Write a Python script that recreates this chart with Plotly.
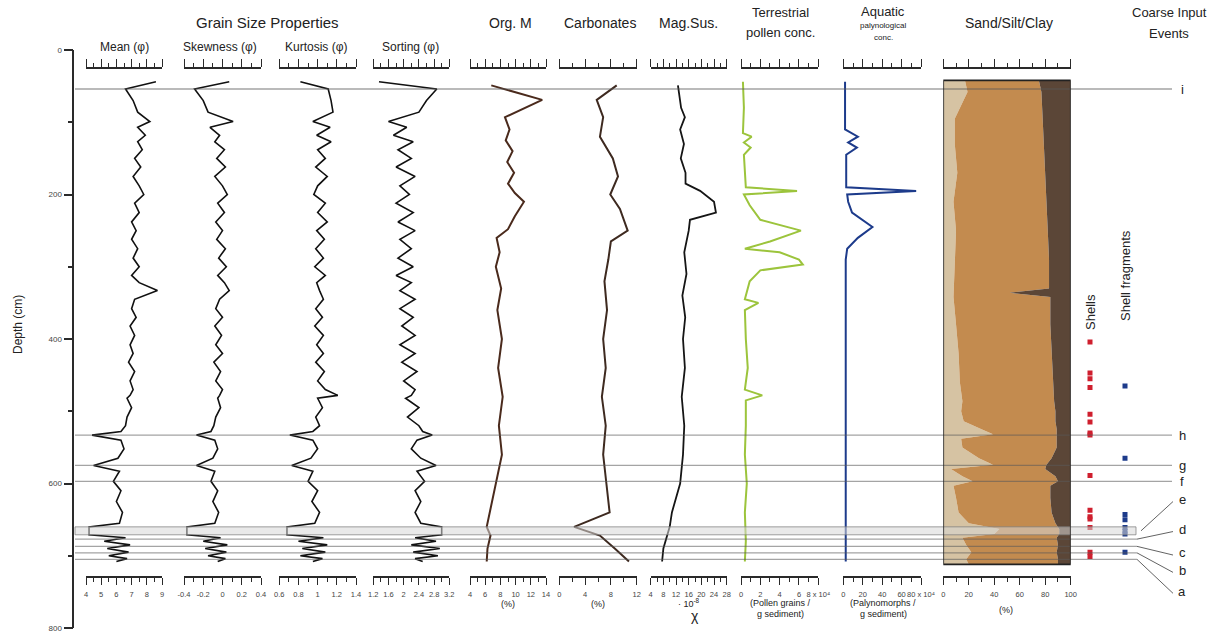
import plotly.graph_objects as go

W, H = 1225, 634

# ---------------- data (depth in cm) ----------------
grain_depth = [44,54,70,86,99,107,118,127,138,150,162,175,188,200,212,225,238,250,262,275,288,300,312,322,333,345,358,370,382,395,408,420,432,445,458,470,478,482,495,508,520,528,533,540,552,565,575,583,597,610,625,640,655,660,671,675,680,685,690,695,700,704,708]
mean_val = [8.6,6.6,7.1,7.4,8.2,7.4,7.9,7.4,7.7,7.2,7.6,7.1,7.5,7.8,7.2,7.5,7.0,7.3,7.0,7.4,7.1,7.5,7.0,7.5,8.7,7.2,7.0,7.3,6.9,7.2,6.9,7.1,6.8,7.2,6.9,7.1,6.9,6.7,7.0,6.7,6.6,6.3,4.4,6.3,6.5,6.1,4.5,6.2,5.8,6.3,6.0,6.4,6.2,4.2,4.2,6.6,5.2,6.9,5.4,6.8,5.5,6.7,6.0]
skew_val = [0.07,-0.29,-0.2,-0.15,0.11,-0.13,-0.03,-0.08,0.02,-0.06,0.03,-0.08,0.0,0.05,-0.05,0.02,-0.07,0.0,-0.06,0.03,-0.04,0.04,-0.05,0.02,0.07,-0.03,-0.07,0.0,-0.08,-0.01,-0.07,0.0,-0.09,-0.02,-0.07,0.0,-0.03,-0.05,-0.02,-0.07,-0.09,-0.12,-0.27,-0.08,-0.05,-0.1,-0.27,-0.08,-0.12,-0.05,-0.1,-0.04,-0.08,-0.37,-0.37,-0.02,-0.2,0.05,-0.18,0.04,-0.15,0.03,-0.05]
kurt_val = [0.82,1.11,1.14,1.16,0.95,1.13,0.99,1.14,1.0,1.08,0.98,1.1,1.0,0.96,1.08,1.0,1.1,0.99,1.07,0.98,1.06,0.97,1.08,0.99,1.02,1.06,0.98,1.05,0.97,1.06,0.99,1.06,0.98,1.07,1.0,1.08,1.21,1.0,1.05,0.98,1.02,0.95,0.71,0.95,1.0,0.93,0.73,0.95,0.9,1.0,0.94,1.02,0.97,0.68,0.68,1.06,0.8,1.1,0.84,1.08,0.82,1.05,0.95]
sort_val = [1.35,2.87,2.6,2.4,1.6,2.08,1.73,2.25,1.85,2.2,1.8,2.3,1.9,2.15,1.8,2.25,1.85,2.3,1.9,2.2,1.85,2.25,1.8,2.2,1.9,2.3,1.9,2.25,1.95,2.3,1.9,2.3,1.95,2.35,2.0,2.3,2.2,2.05,2.4,2.1,2.4,2.5,2.75,2.35,2.2,2.45,2.85,2.35,2.55,2.3,2.45,2.3,2.45,3.0,3.0,2.3,2.85,2.2,2.95,2.25,2.9,2.3,2.5]

orgm_depth = [49,69,93,110,125,140,155,170,185,198,210,230,248,260,280,300,330,360,400,440,480,520,560,600,640,660,672,690,708]
orgm_val = [6.8,13.5,8.6,9.2,8.7,9.6,8.9,9.8,9.0,9.9,11.1,9.9,9.0,7.5,7.9,7.4,8.1,7.6,8.2,7.7,8.3,7.8,8.2,7.4,6.7,6.2,6.7,6.3,6.2]

carb_depth = [49,69,93,120,150,175,200,220,250,265,290,320,360,400,440,480,520,560,600,640,660,672,690,708]
carb_val = [8.9,5.8,6.8,6.3,8.3,9.1,7.9,9.4,10.6,8.0,7.6,7.0,7.4,6.8,7.2,6.6,7.2,6.8,7.3,7.8,2.3,6.3,8.6,10.8]

mag_depth = [49,80,93,110,130,150,170,185,195,210,225,235,250,280,310,340,370,400,440,480,520,560,600,640,660,672,690,708]
mag_val = [12.6,13.6,14.8,13.3,14.5,13.5,15.0,15.0,19.6,24.0,24.6,16.4,16.0,14.6,15.3,14.0,14.9,14.2,14.8,13.8,14.6,14.2,13.3,10.7,10.0,9.2,8.0,7.6]

terr_depth = [44,80,115,120,128,135,145,190,195,200,215,235,250,265,275,280,290,297,305,320,345,350,360,400,440,470,478,485,520,560,600,640,680,708]
terr_val = [0.2,0.3,0.2,1.1,0.3,1.0,0.3,0.5,5.8,0.3,0.9,2.0,6.2,3.0,0.4,4.0,6.0,6.4,2.0,0.9,0.4,1.8,0.4,0.5,0.7,0.4,2.2,0.5,0.5,0.4,0.6,0.4,0.5,0.4]

aqua_depth = [44,110,120,128,135,145,190,195,200,210,225,245,260,275,290,400,500,600,660,708]
aqua_val = [1.8,1.8,15,5,14,3,3,75,4,5,9,30,15,4,2.5,2.5,2.5,2.5,3,2.5]

sand_depth = [42,58,95,130,170,210,250,290,330,336,342,380,420,460,486,500,514,525,532,538,550,565,574,580,590,597,603,620,640,655,663,670,675,685,695,705,712]
sand_val = [17,19,9,9,11,8,10,9,8,8,8,10,12,13,15,14,16,30,39,14,15,28,39,6,15,23,8,10,12,20,44,40,15,18,22,18,20]
silt_val = [58,58,69,70,69,73,72,74,75,44,76,74,73,73,72,74,72,59,50,75,74,57,42,74,73,67,76,74,73,68,47,51,74,72,67,72,70]

shell_depths = [404, 447, 455, 467, 504, 515, 530, 533, 589, 637, 646, 649, 661, 695, 701]
frag_depths = [465, 565, 643, 650, 661, 666, 670, 695]

event_lines = {"i": 54, "h": 533, "g": 575, "f": 597}
event_lines_low = {"d": 677, "c": 687, "b": 696, "a": 705}
event_band = {"e": (660, 671)}

# panel definitions: name, x0px, x1px, range, major ticks, labels, minor dtick
panels = [
    ("Mean (φ)", 86, 162, [4, 9], [4, 5, 6, 7, 8, 9], ["4", "5", "6", "7", "8", "9"], 0.5),
    ("Skewness (φ)", 184, 261, [-0.4, 0.4], [-0.4, -0.2, 0, 0.2, 0.4], ["-0.4", "-0.2", "0", "0.2", "0.4"], 0.1),
    ("Kurtosis (φ)", 279.3, 356, [0.6, 1.4], [0.6, 0.8, 1.0, 1.2, 1.4], ["0.6", "0.8", "1", "1.2", "1.4"], 0.1),
    ("Sorting (φ)", 373.3, 449.3, [1.2, 3.2], [1.2, 1.6, 2.0, 2.4, 2.8, 3.2], ["1.2", "1.6", "2", "2.4", "2.8", "3.2"], 0.2),
    ("Org. M", 470, 546, [4, 14], [4, 6, 8, 10, 12, 14], ["4", "6", "8", "10", "12", "14"], 1),
    ("Carbonates", 559.3, 636.7, [0, 12], [0, 4, 8, 12], ["0", "4", "8", "12"], 2),
    ("Mag.Sus.", 650.7, 726.7, [4, 28], [4, 8, 12, 16, 20, 24, 28], ["4", "8", "12", "16", "20", "24", "28"], 2),
    ("Terrestrial", 741, 818.3, [0, 8], [0, 2, 4, 6, 8], ["0", "2", "4", "6", "8 x 10⁴"], 1),
    ("Aquatic", 843.3, 921, [0, 80], [0, 20, 40, 60, 80], ["0", "20", "40", "60", "80 x 10⁴"], 10),
    ("Sand", 943.3, 1070.7, [0, 100], [0, 20, 40, 60, 80, 100], ["0", "20", "40", "60", "80", "100"], 10),
]

series = [
    (grain_depth, mean_val, "#111111", 1.6),
    (grain_depth, skew_val, "#111111", 1.6),
    (grain_depth, kurt_val, "#111111", 1.6),
    (grain_depth, sort_val, "#111111", 1.6),
    (orgm_depth, orgm_val, "#4a2a1c", 2.0),
    (carb_depth, carb_val, "#3e2a20", 2.0),
    (mag_depth, mag_val, "#151515", 1.8),
    (terr_depth, terr_val, "#9cc43c", 2.0),
    (aqua_depth, aqua_val, "#1d3b8b", 2.0),
]

FONT = "Arial, 'Liberation Sans', sans-serif"
TOP_Y = 68      # px position of top scale bars
BOT_Y = 577     # px position of bottom scale bars
AX_COLOR = "#2a2a2a"

fig = go.Figure()
layout = dict(
    width=W, height=H, autosize=False,
    margin=dict(l=0, r=0, t=0, b=0, pad=0, autoexpand=False),
    paper_bgcolor="white", plot_bgcolor="rgba(0,0,0,0)",
    showlegend=False,
    font=dict(family=FONT, color="#222"),
)

# depth axis
layout["yaxis"] = dict(
    domain=[1 - 628 / H, 1 - 50 / H], range=[800, 0], anchor="free", position=73.3 / W,
    showline=True, linecolor=AX_COLOR, linewidth=1.6, ticks="outside", ticklen=9, tickwidth=1.6,
    tickcolor=AX_COLOR, tickvals=[0, 200, 400, 600, 800], tickfont=dict(size=8, color="#444"),
    minor=dict(tickvals=[100, 300, 500, 700], ticklen=5, tickwidth=1.6, tickcolor=AX_COLOR, ticks="outside"),
    showgrid=False, zeroline=False, automargin=False, fixedrange=True,
)

n = len(panels)
for i, (name, x0, x1, rng, majors, labels, mdt) in enumerate(panels):
    top_id = i + 1
    bot_id = i + 1 + n
    dom = [x0 / W, x1 / W]
    common = dict(domain=dom, range=rng, showgrid=False, zeroline=False, showline=True,
                  linecolor=AX_COLOR, linewidth=1.6, tickcolor=AX_COLOR, tickwidth=1.4,
                  ticks="outside", tickvals=majors, anchor="free", fixedrange=True,
                  automargin=False, tickangle=0)
    minor_vals = []
    v = rng[0]
    while v <= rng[1] + 1e-9:
        if all(abs(v - m) > 1e-9 for m in majors):
            minor_vals.append(round(v, 6))
        v += mdt
    layout["xaxis" if top_id == 1 else f"xaxis{top_id}"] = dict(
        common, side="top", position=1 - TOP_Y / H, ticklen=8, showticklabels=False,
        minor=dict(tickvals=minor_vals, ticklen=4, tickwidth=1.4, tickcolor=AX_COLOR, ticks="outside"),
    )
    layout[f"xaxis{bot_id}"] = dict(
        common, side="bottom", position=1 - BOT_Y / H, ticklen=7, showticklabels=True,
        ticktext=labels, tickfont=dict(size=7.5, color="#444"), ticklabelstandoff=3,
        minor=dict(tickvals=minor_vals, ticklen=4, tickwidth=1.4, tickcolor=AX_COLOR, ticks="outside"),
    )
    xa = "x" if top_id == 1 else f"x{top_id}"
    # scale-only trace so the bottom axis is drawn
    fig.add_trace(go.Scatter(x=rng, y=[None, None], xaxis=f"x{bot_id}", yaxis="y",
                             mode="lines", hoverinfo="skip"))
    if i < len(series):
        d, v, c, w = series[i]
        fig.add_trace(go.Scatter(x=v, y=d, xaxis=xa, yaxis="y", mode="lines",
                                 line=dict(color=c, width=w), hoverinfo="skip"))

# Sand / Silt / Clay stacked areas (panel 10)
sand_xa = f"x{n}"
sand_cum = list(sand_val)
silt_cum = [s + t for s, t in zip(sand_val, silt_val)]
full = [100 for _ in sand_val]
fig.add_trace(go.Scatter(x=sand_cum, y=sand_depth, xaxis=sand_xa, yaxis="y", mode="lines",
                         line=dict(width=0), fill="tozerox", fillcolor="#d6c3a3", hoverinfo="skip"))
fig.add_trace(go.Scatter(x=silt_cum, y=sand_depth, xaxis=sand_xa, yaxis="y", mode="lines",
                         line=dict(width=0), fill="tonextx", fillcolor="#c38b4f", hoverinfo="skip"))
fig.add_trace(go.Scatter(x=full, y=sand_depth, xaxis=sand_xa, yaxis="y", mode="lines",
                         line=dict(width=0), fill="tonextx", fillcolor="#5b4637", hoverinfo="skip"))

# events panel (categorical)
ev_id = 2 * n + 1
layout[f"xaxis{ev_id}"] = dict(domain=[1072.5 / W, 1142.5 / W], range=[-0.5, 1.5], type="category",
                               categoryarray=["Shells", "Shell fragments"], visible=False,
                               anchor="free", position=0, automargin=False, fixedrange=True)
fig.add_trace(go.Scatter(x=["Shells"] * len(shell_depths), y=shell_depths, xaxis=f"x{ev_id}", yaxis="y",
                         mode="markers", marker=dict(symbol="square", size=5, color="#cf1f2e"), hoverinfo="skip"))
fig.add_trace(go.Scatter(x=["Shell fragments"] * len(frag_depths), y=frag_depths, xaxis=f"x{ev_id}", yaxis="y",
                         mode="markers", marker=dict(symbol="square", size=5, color="#1d3b8b"), hoverinfo="skip"))

shapes = []
LINE = dict(color="rgba(90,90,90,0.55)", width=1.3)
for k, dep in event_lines.items():
    shapes.append(dict(type="line", xref="paper", yref="y", x0=75 / W, x1=1172 / W, y0=dep, y1=dep, line=LINE, layer="above"))
label_pos = {"e": 622, "d": 663.5, "c": 696, "b": 720, "a": 749}
for k, dep in event_lines_low.items():
    shapes.append(dict(type="line", xref="paper", yref="y", x0=75 / W, x1=1137 / W, y0=dep, y1=dep, line=LINE, layer="above"))
    shapes.append(dict(type="line", xref="paper", yref="y", x0=1137 / W, x1=1173 / W, y0=dep, y1=label_pos[k] + 3,
                       line=dict(color="rgba(60,60,60,0.8)", width=1), layer="above"))
e0, e1 = event_band["e"]
shapes.append(dict(type="rect", xref="paper", yref="y", x0=75 / W, x1=1136 / W, y0=e0, y1=e1,
                   fillcolor="rgba(215,215,215,0.55)", line=dict(color="rgba(120,120,120,0.7)", width=1), layer="above"))
shapes.append(dict(type="line", xref="paper", yref="y", x0=1141 / W, x1=1173 / W, y0=(e0 + e1) / 2, y1=label_pos["e"] + 3,
                   line=dict(color="rgba(60,60,60,0.8)", width=1), layer="above"))
# sand box border
shapes.append(dict(type="rect", xref=sand_xa, yref="y", x0=0, x1=100, y0=min(sand_depth), y1=max(sand_depth),
                   line=dict(color="#222", width=1.6), fillcolor="rgba(0,0,0,0)", layer="above"))

annotations = []
def ann(text, x, y, size, angle=0, color="#222", xanchor="center"):
    annotations.append(dict(text=text, x=x / W, y=1 - y / H, xref="paper", yref="paper", showarrow=False,
                            font=dict(size=size, color=color, family=FONT), textangle=angle,
                            xanchor=xanchor, yanchor="middle"))

ann("Grain Size Properties", 267, 22, 15)
ann("Mean (φ)", 124, 47, 12)
ann("Skewness (φ)", 220, 47, 12)
ann("Kurtosis (φ)", 316, 47, 12)
ann("Sorting (φ)", 410, 47, 12)
ann("Org. M", 510, 23, 14)
ann("Carbonates", 600, 23, 14)
ann("Mag.Sus.", 688, 23, 14)
ann("Terrestrial", 780, 13, 13)
ann("pollen conc.", 780, 32, 13)
ann("Aquatic", 883, 12, 13)
ann("palynological", 883, 26, 8)
ann("conc.", 883, 38, 8)
ann("Sand/Silt/Clay", 1009, 23, 14)
ann("Coarse Input", 1169, 13, 13)
ann("Events", 1169, 33, 13)
ann("Depth (cm)", 18, 325, 12, angle=-90)
ann("(%)", 508, 604, 9)
ann("(%)", 598, 604, 9)
ann("· 10<sup>-8</sup>", 689, 603, 9)
ann("χ", 695, 616, 14)
ann("(Pollen grains /", 780, 603, 9)
ann("g sediment)", 780, 614, 9)
ann("(Palynomorphs /", 883, 603, 9)
ann("g sediment)", 883, 614, 9)
ann("(%)", 1006, 610, 9)
ann("Shells", 1090, 312, 13, angle=-90)
ann("Shell fragments", 1125, 276, 13, angle=-90)
for k, dep in event_lines.items():
    annotations.append(dict(text=k, x=1182 / W, y=dep, xref="paper", yref="y", showarrow=False,
                            font=dict(size=13, color="#222", family=FONT), xanchor="center", yanchor="middle"))
for k, yl in label_pos.items():
    annotations.append(dict(text=k, x=1182 / W, y=yl, xref="paper", yref="y", showarrow=False,
                            font=dict(size=13, color="#222", family=FONT), xanchor="center", yanchor="middle"))

layout["shapes"] = shapes
layout["annotations"] = annotations
fig.update_layout(**layout)
fig.write_html("out.html")
